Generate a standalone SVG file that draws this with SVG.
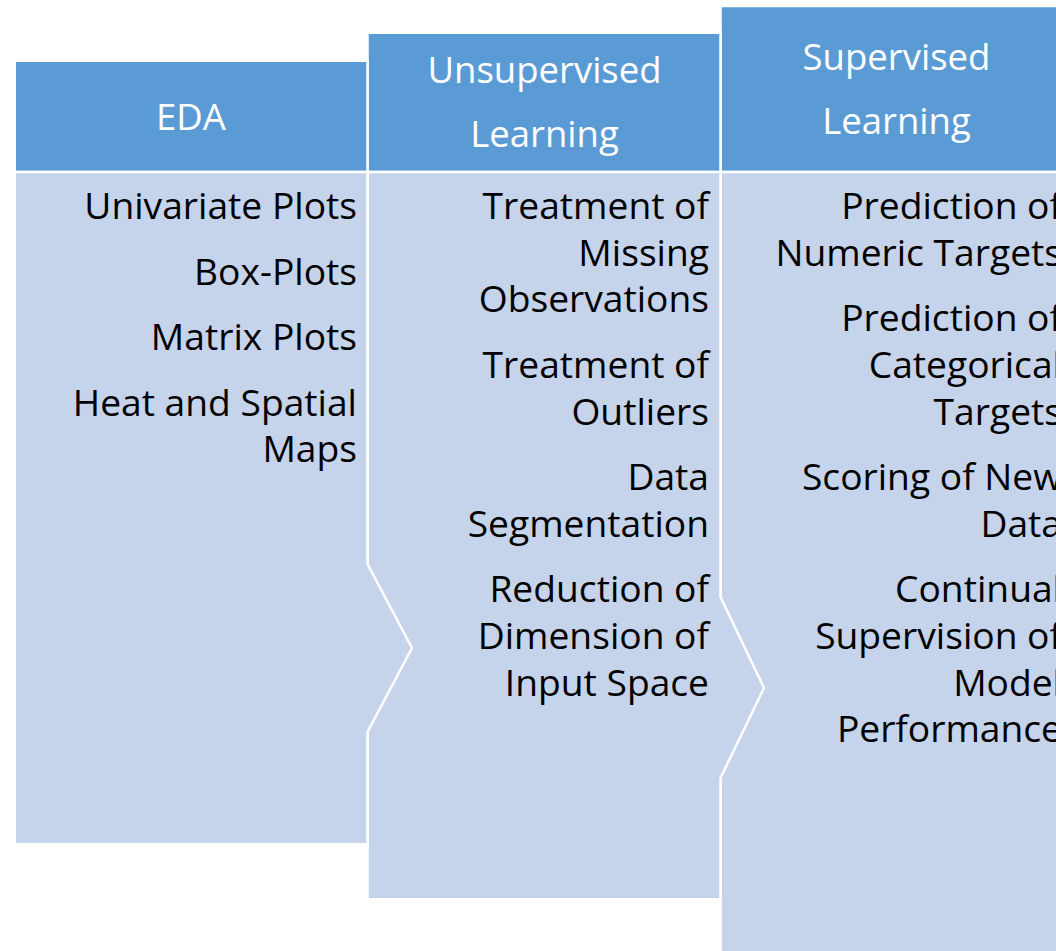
<svg xmlns="http://www.w3.org/2000/svg" width="1056" height="951" viewBox="0 0 1056 951">
<style>
.hdr{fill:#5b9bd5;stroke:#ffffff;stroke-width:2.5}
.body{fill:#c5d4ea;stroke:#ffffff;stroke-width:2.5}
.ht{font-family:"Open Sans","Liberation Sans",sans-serif;font-size:36.5px;fill:#ffffff;text-anchor:middle}
.bt{font-family:"Open Sans","Liberation Sans",sans-serif;font-size:37.2px;fill:#000000;text-anchor:end}
</style>
<rect width="1056" height="951" fill="#ffffff"/>
<g id="supervised">
<rect class="hdr" x="720.5" y="6" width="360" height="166"/>
<polygon class="body" points="720.5,172 1080,172 1080,960 720.5,960"/>
<text class="ht" x="896.5" y="70">Supervised</text>
<text class="ht" x="896.5" y="134">Learning</text>
<text class="bt" x="1062" y="219">Prediction of</text>
<text class="bt" x="1062" y="265.7">Numeric Targets</text>
<text class="bt" x="1062" y="331.2">Prediction of</text>
<text class="bt" x="1062" y="377.9">Categorical</text>
<text class="bt" x="1062" y="424.6">Targets</text>
<text class="bt" x="1062" y="490.1">Scoring of New</text>
<text class="bt" x="1062" y="536.8">Data</text>
<text class="bt" x="1062" y="602.3">Continual</text>
<text class="bt" x="1062" y="649">Supervision of</text>
<text class="bt" x="1062" y="695.7">Model</text>
<text class="bt" x="1062" y="742.4">Performance</text>
</g>
<g id="unsupervised">
<rect class="hdr" x="367.5" y="32.75" width="353" height="139.25"/>
<polygon class="body" points="367.5,172 720.5,172 720.5,597 764,688 720.5,778 720.5,899.25 367.5,899.25"/>
<text class="ht" x="544.5" y="83">Unsupervised</text>
<text class="ht" x="544.5" y="147">Learning</text>
<text class="bt" x="709" y="219">Treatment of</text>
<text class="bt" x="709" y="265.7">Missing</text>
<text class="bt" x="709" y="312.4">Observations</text>
<text class="bt" x="709" y="377.9">Treatment of</text>
<text class="bt" x="709" y="424.6">Outliers</text>
<text class="bt" x="709" y="490.1">Data</text>
<text class="bt" x="709" y="536.8">Segmentation</text>
<text class="bt" x="709" y="602.3">Reduction of</text>
<text class="bt" x="709" y="649">Dimension of</text>
<text class="bt" x="709" y="695.7">Input Space</text>
</g>
<g id="eda">
<rect class="hdr" x="14.75" y="60.75" width="352.75" height="111.25"/>
<polygon class="body" points="14.75,172 367.5,172 367.5,564 412,648 367.5,732 367.5,844.25 14.75,844.25"/>
<text class="ht" x="191" y="130">EDA</text>
<text class="bt" x="357" y="219">Univariate Plots</text>
<text class="bt" x="357" y="284.5">Box-Plots</text>
<text class="bt" x="357" y="350">Matrix Plots</text>
<text class="bt" x="357" y="415.5">Heat and Spatial</text>
<text class="bt" x="357" y="462.2">Maps</text>
</g>
<g id="connectors"></g>
</svg>
